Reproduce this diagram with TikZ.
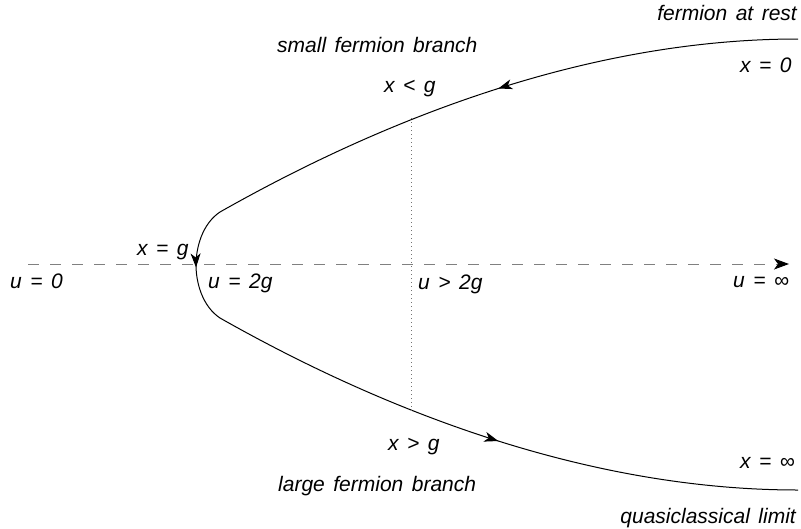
\documentclass[tikz,border=0pt]{standalone}
\usepackage{fontspec}
\setmainfont{Liberation Sans}
\usetikzlibrary{arrows.meta,decorations.markings}
\newcommand\labfont{\fontsize{21}{25}\selectfont\itshape\spaceskip=8.5pt\relax}
\tikzset{
  lab/.style={font=\labfont, inner sep=0pt, text=black},
  branch/.style={line width=1pt, black},
  tipmark/.style={postaction={decorate, decoration={markings,
      mark=at position #1 with {\arrow{Stealth[length=14pt,width=10pt,inset=4pt]}}}}},
  axis/.style={draw=black!50, line width=0.9pt, dash pattern=on 11pt off 11pt,
      -{Stealth[length=15pt,width=11pt,inset=4pt,black]}},
  guide/.style={draw=black!55, line width=0.9pt, dash pattern=on 1pt off 3pt}
}
\begin{document}
\begin{tikzpicture}[x=1pt,y=-1pt]
\useasboundingbox (0,0) rectangle (801,528);
% coordinates
\coordinate (ustart) at (28,264);
\coordinate (uend) at (789,264);
\coordinate (rest) at (798,39);
\coordinate (qcl) at (798,490);
\coordinate (ua) at (220,212);
\coordinate (lb) at (220,318);
\coordinate (dtop) at (411,118);
\coordinate (dbot) at (411,413);
% axis
\draw[axis] (ustart) -- (uend);
% branches
\draw[branch, tipmark=0.5] (rest) .. controls (600,39) and (400,110) .. (ua);
\draw[branch, tipmark=0.52] (ua) .. controls (202,224) and (196,248) .. (196,265)
   .. controls (196,282) and (202,306) .. (lb);
\draw[branch, tipmark=0.5] (lb) .. controls (400,420) and (600,490) .. (qcl);
% guide
\draw[guide] (dtop) -- (dbot);
% labels
\node[lab, anchor=base east] (trest) at (797,20) {fermion at rest};
\node[lab, anchor=base west] (tsmall) at (277,52) {small fermion branch};
\node[lab, anchor=base west] (txlg) at (384,92) {x < g};
\node[lab, anchor=base west] (tx0) at (740,72) {x = 0};
\node[lab, anchor=base west] (txg) at (137,255) {x = g};
\node[lab, anchor=base west] (tu0) at (10,288) {u = 0};
\node[lab, anchor=base west] (tu2g) at (208,288) {u = 2g};
\node[lab, anchor=base west] (tugt) at (418,289) {u > 2g};
\node[lab, anchor=base west] (tuinf) at (733,287) {u = ∞};
\node[lab, anchor=base west] (txgg) at (388,450) {x > g};
\node[lab, anchor=base west] (tlarge) at (278,491) {large fermion branch};
\node[lab, anchor=base west] (txinf) at (740,468) {x = ∞};
\node[lab, anchor=base east] (tqcl) at (796,523) {quasiclassical limit};
\end{tikzpicture}
\end{document}
